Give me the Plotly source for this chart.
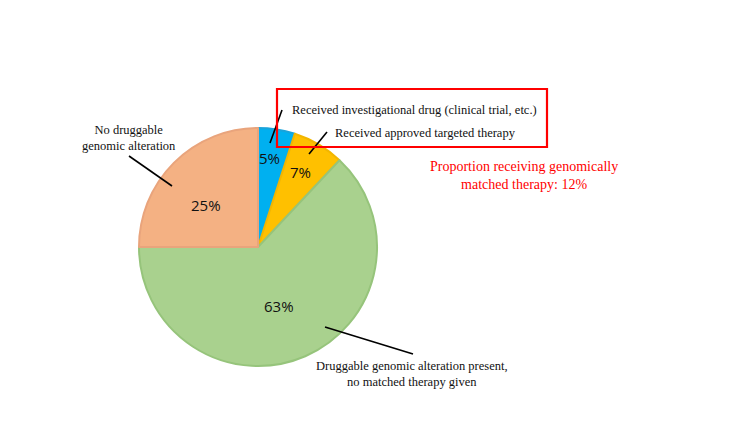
import plotly.graph_objects as go

W, H = 750, 422

categories = [
    "Received investigational drug (clinical trial, etc.)",
    "Received approved targeted therapy",
    "Druggable genomic alteration present, no matched therapy given",
    "No druggable genomic alteration",
]
values = [5, 7, 63, 25]
fill_colors = ["#00B0F0", "#FFC000", "#A9D18E", "#F4B183"]
edge_colors = ["#1AA3DA", "#F2B600", "#96C47B", "#E9A47C"]

# percent label positions (px)
pct_pos = [(269, 158), (300, 172), (279, 306), (206, 205)]

fig = go.Figure()
fig.add_trace(go.Pie(
    labels=categories,
    values=values,
    sort=False,
    direction="clockwise",
    rotation=0,
    textinfo="none",
    hoverinfo="label+percent",
    marker=dict(colors=fill_colors, line=dict(color=edge_colors, width=2)),
    domain=dict(x=[139 / W, 377 / W], y=[(175 - 119) / H, (175 + 119) / H]),
    showlegend=False,
))

def px(x):
    return x / W

def py(y):
    return 1 - y / H

annotations = []
for v, (x, y) in zip(values, pct_pos):
    annotations.append(dict(
        x=px(x), y=py(y), xref="paper", yref="paper", text=f"{v}%",
        xanchor="center", yanchor="middle",
        showarrow=False, font=dict(family="Open Sans, sans-serif", size=15, color="#111"),
    ))

serif = "Liberation Serif, Times New Roman, serif"
annotations += [
    dict(x=px(290), y=py(110), xref="paper", yref="paper", xanchor="left", yanchor="middle",
         text=categories[0], showarrow=False, font=dict(family=serif, size=12.5, color="#111")),
    dict(x=px(333), y=py(133), xref="paper", yref="paper", xanchor="left", yanchor="middle",
         text=categories[1], showarrow=False, font=dict(family=serif, size=12.5, color="#111")),
    dict(x=px(412), y=py(374), xref="paper", yref="paper", xanchor="center", yanchor="middle",
         text="Druggable genomic alteration present,<br>no matched therapy given",
         showarrow=False, font=dict(family=serif, size=12.5, color="#111")),
    dict(x=px(129), y=py(138), xref="paper", yref="paper", xanchor="center", yanchor="middle",
         text="No druggable<br>genomic alteration",
         showarrow=False, font=dict(family=serif, size=12.5, color="#111")),
    dict(x=px(524), y=py(175), xref="paper", yref="paper", xanchor="center", yanchor="middle",
         text=f"Proportion receiving genomically<br>matched therapy: {values[0] + values[1]}%",
         showarrow=False, font=dict(family=serif, size=14, color="#FF0000")),
]

def seg(x0, y0, x1, y1, color="#000", width=1.6):
    return dict(type="line", xref="paper", yref="paper",
                x0=px(x0), y0=py(y0), x1=px(x1), y1=py(y1),
                line=dict(color=color, width=width))

shapes = [
    seg(270, 143, 282, 110),
    seg(309, 154, 327, 132),
    seg(325, 327, 413, 354),
    seg(129, 156, 172, 186),
    dict(type="rect", xref="paper", yref="paper",
         x0=px(277), y0=py(89), x1=px(547), y1=py(147),
         line=dict(color="#FF0000", width=2.2), fillcolor="rgba(0,0,0,0)"),
]

fig.update_layout(
    width=W, height=H,
    margin=dict(l=0, r=0, t=0, b=0),
    paper_bgcolor="white", plot_bgcolor="white",
    annotations=annotations, shapes=shapes,
)

fig.write_html("out.html")
